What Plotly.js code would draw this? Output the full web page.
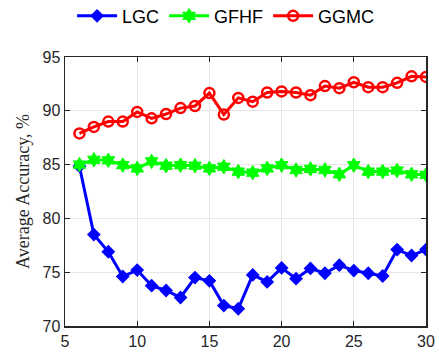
<!DOCTYPE html>
<html>
<head>
<meta charset="utf-8">
<script src="https://cdn.plot.ly/plotly-3.0.1.min.js"></script>
<style>
  html, body { margin: 0; padding: 0; background: #fff; }
  #chart { width: 439px; height: 358px; }
</style>
</head>
<body>
<div id="chart"></div>
<script>
// Number of labeled samples on the x axis
const samples = [6, 7, 8, 9, 10, 11, 12, 13, 14, 15, 16, 17, 18, 19, 20, 21, 22, 23, 24, 25, 26, 27, 28, 29, 30];

// Average accuracy (%) of each method
const lgc  = [84.85, 78.5, 76.9, 74.6, 75.2, 73.75, 73.3, 72.65, 74.5, 74.2, 71.9, 71.6, 74.75, 74.1, 75.4, 74.4, 75.35, 74.9, 75.65, 75.15, 74.9, 74.65, 77.1, 76.55, 77.1];
const gfhf = [85.0, 85.45, 85.4, 84.95, 84.65, 85.3, 84.9, 84.95, 84.9, 84.65, 84.8, 84.35, 84.25, 84.65, 84.95, 84.5, 84.6, 84.5, 84.1, 84.95, 84.35, 84.35, 84.45, 84.1, 84.05];
const ggmc = [87.9, 88.5, 89.0, 89.0, 89.9, 89.3, 89.7, 90.25, 90.45, 91.65, 89.65, 91.2, 90.85, 91.7, 91.8, 91.7, 91.45, 92.3, 92.1, 92.65, 92.2, 92.2, 92.6, 93.2, 93.15];

const xTicks = [5, 10, 15, 20, 25, 30];
const yTicks = [70, 75, 80, 85, 90, 95];

const traces = [
  {
    x: samples, y: lgc, name: 'LGC', type: 'scatter', mode: 'lines+markers',
    line: { color: '#0000ff', width: 3 },
    marker: { symbol: 'diamond', size: 9, color: '#0000ff', line: { color: '#0000ff', width: 1.5 } }
  },
  {
    x: samples, y: gfhf, name: 'GFHF', type: 'scatter', mode: 'lines+markers',
    line: { color: '#00ff00', width: 3 },
    marker: { symbol: 'hexagram', size: 11, color: '#00ff00', line: { color: '#00ff00', width: 1 } }
  },
  {
    x: samples, y: ggmc, name: 'GGMC', type: 'scatter', mode: 'lines+markers',
    line: { color: '#ff0000', width: 3 },
    marker: { symbol: 'circle-open', size: 10, color: '#ff0000', line: { color: '#ff0000', width: 2.5 } }
  }
];

const axisCommon = {
  showline: true, mirror: 'ticks', linecolor: '#262626', linewidth: 1.5,
  ticks: 'inside', ticklen: 5, tickcolor: '#262626', tickwidth: 1,
  showgrid: true, gridcolor: '#e6e6e6', gridwidth: 1,
  zeroline: false, automargin: false,
  tickfont: { family: 'Liberation Sans, Arial, sans-serif', size: 16, color: '#262626' }
};

const layout = {
  width: 439, height: 358,
  margin: { l: 65, r: 13, t: 57, b: 32, autoexpand: false },
  paper_bgcolor: '#ffffff', plot_bgcolor: '#ffffff',
  showlegend: true,
  legend: {
    orientation: 'h', xref: 'container', yref: 'container',
    x: 0.515, xanchor: 'center', y: 0.955, yanchor: 'middle',
    font: { family: 'Liberation Sans, Arial, sans-serif', size: 18, color: '#000' },
    itemwidth: 40, tracegroupgap: 0
  },
  xaxis: Object.assign({}, axisCommon, {
    range: [5, 30], tickvals: xTicks, ticktext: xTicks.map(String)
  }),
  yaxis: Object.assign({}, axisCommon, {
    range: [70, 95], tickvals: yTicks, ticktext: yTicks.map(String),
    title: { text: 'Average Accuracy, %', standoff: 8,
      font: { family: 'Liberation Serif, Times New Roman, serif', size: 18, color: '#262626' } }
  })
};

Plotly.newPlot('chart', traces, layout, { displayModeBar: false, staticPlot: true });
</script>
</body>
</html>
